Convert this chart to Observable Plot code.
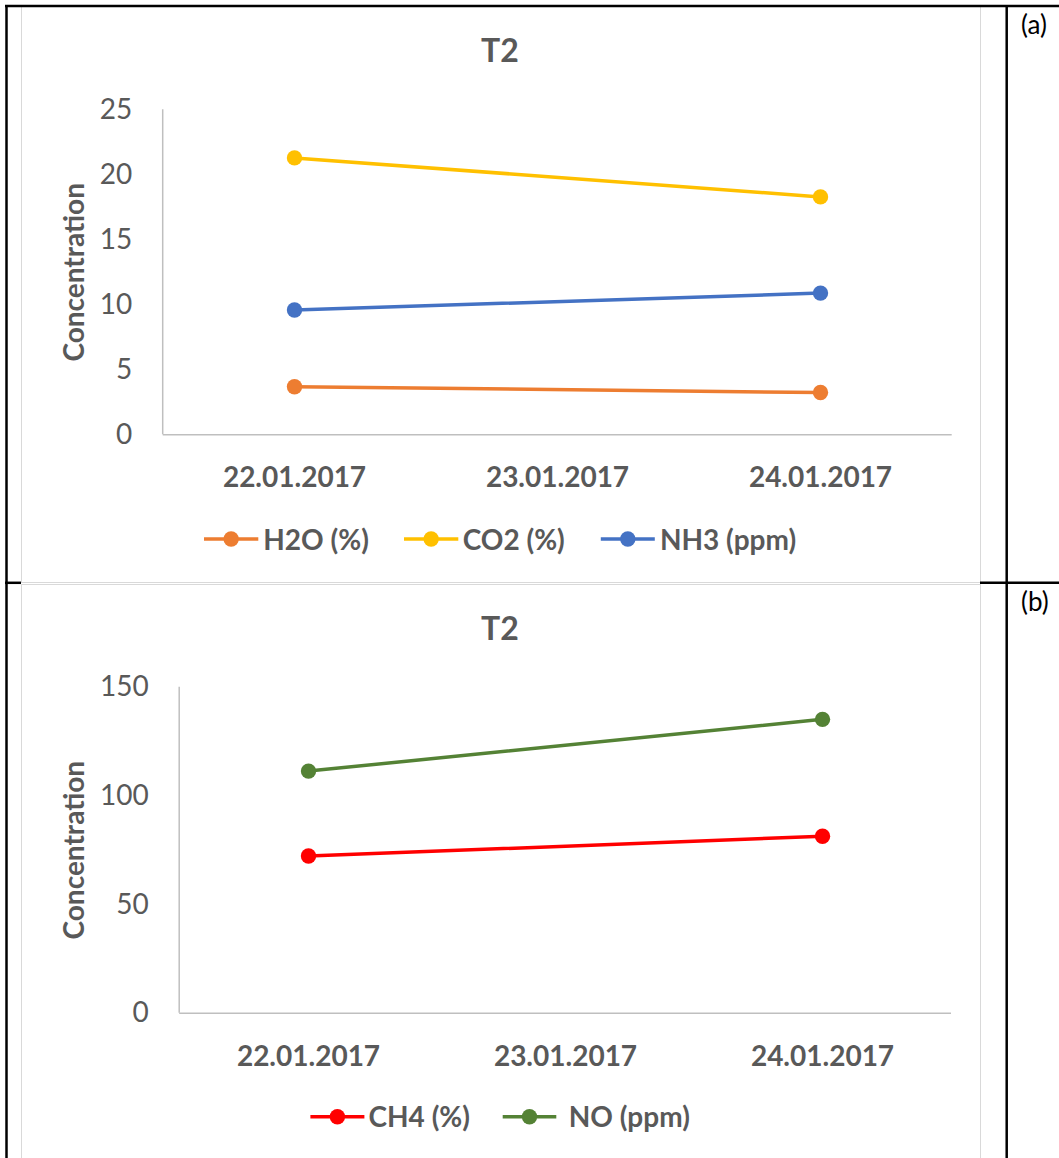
<!DOCTYPE html>
<html>
<head>
<meta charset="utf-8">
<script src="https://cdn.jsdelivr.net/npm/d3@7"></script>
<script src="https://cdn.jsdelivr.net/npm/@observablehq/plot@0.6"></script>
<style>
  html, body { margin: 0; padding: 0; background: #fff; }
  #page { position: relative; width: 1059px; height: 1158px; overflow: hidden; background: #fff; font-family: Lato, sans-serif; }
  #page > svg.plot { position: absolute; }
  #overlay { position: absolute; left: 0; top: 0; pointer-events: none; }
</style>
</head>
<body>
<div id="page"></div>
<script>
// ---- data ----
const dates = ["22.01.2017", "23.01.2017", "24.01.2017"];
const measuredDates = ["22.01.2017", "24.01.2017"];

const seriesA = ["H2O (%)", "CO2 (%)", "NH3 (ppm)"];
const h2o = [3.7, 3.25];
const co2 = [21.3, 18.3];
const nh3 = [9.6, 10.9];
const ticksA = [0, 5, 10, 15, 20, 25];

const seriesB = ["CH4 (%)", "NO (ppm)"];
const ch4 = [72.3, 81.4];
const no = [111.4, 135.2];
const ticksB = [0, 50, 100, 150];

const colorsA = ["#ED7D31", "#FFC000", "#4472C4"];
const colorsB = ["#FF0000", "#548235"];

const title = "T2";
const yTitle = "Concentration";
const panelLabels = ["(a)", "(b)"];

function toRows(names, valueLists) {
  const rows = [];
  names.forEach((name, i) => {
    measuredDates.forEach((d, j) => rows.push({series: name, date: d, value: valueLists[i][j]}));
  });
  return rows;
}
const rowsA = toRows(seriesA, [h2o, co2, nh3]);
const rowsB = toRows(seriesB, [ch4, no]);

// ---- layout ----
const TEXT = "#595959";
const AXIS = "#BFBFBF";
const FONT = "Lato, sans-serif";

const leftAxisLine = (index, scales, values, dims) =>
  d3.create("svg:line")
    .attr("x1", dims.marginLeft).attr("x2", dims.marginLeft)
    .attr("y1", dims.marginTop).attr("y2", dims.height - dims.marginBottom)
    .attr("stroke", AXIS).attr("stroke-width", 1.5).node();

function panel({rows, series, colors, ticks, m}) {
  const svg = Plot.plot({
    width: 960, height: 410,
    marginLeft: m[0], marginRight: m[1], marginTop: m[2], marginBottom: m[3],
    style: {fontFamily: FONT, color: TEXT, background: "transparent", overflow: "visible"},
    x: {type: "point", domain: dates, padding: 0.5, label: null},
    y: {domain: [ticks[0], ticks[ticks.length - 1]], label: null},
    color: {domain: series, range: colors},
    marks: [
      Plot.ruleY([0], {stroke: AXIS, strokeWidth: 1.5}),
      leftAxisLine,
      Plot.axisX({tickSize: 0, tickPadding: 32.5, fontSize: 28, fontWeight: "bold", label: null}),
      Plot.axisY({ticks, tickSize: 0, tickPadding: 31, fontSize: 28, label: null}),
      Plot.line(rows, {x: "date", y: "value", z: "series", stroke: "series", strokeWidth: 3.5}),
      Plot.dot(rows, {x: "date", y: "value", fill: "series", r: 7.7}),
      Plot.text([yTitle], {text: d => d, frameAnchor: "left", textAnchor: "middle", lineAnchor: "middle",
        rotate: -90, dx: 55 - m[0], fontSize: 28, fontWeight: "bold", fill: TEXT})
    ]
  });
  svg.classList.add("plot");
  return svg;
}

const page = document.getElementById("page");

// chart frames (light grey)
[[20.7, 6, 960, 577], [20.7, 583.5, 960, 600]].forEach(([l, t, w, h]) => {
  const d = document.createElement("div");
  Object.assign(d.style, {position: "absolute", left: l + "px", top: t + "px", width: w + "px", height: h + "px",
    border: "1.3px solid #D9D9D9", boxSizing: "border-box"});
  page.appendChild(d);
});

const pa = panel({rows: rowsA, series: seriesA, colors: colorsA, ticks: ticksA, m: [142.7, 28.3, 19.3, 65.7]});
pa.style.left = "20px"; pa.style.top = "90px";
page.appendChild(pa);

const pb = panel({rows: rowsB, series: seriesB, colors: colorsB, ticks: ticksB, m: [159.2, 29, 16.7, 67.3]});
pb.style.left = "20px"; pb.style.top = "670px";
page.appendChild(pb);

// overlay: table borders, titles, legends, panel labels
const ov = d3.create("svg").attr("id", "overlay").attr("width", 1059).attr("height", 1158)
  .style("font-family", FONT);

// table borders
ov.append("line").attr("x1", 5).attr("x2", 1059).attr("y1", 6).attr("y2", 6).attr("stroke", "#000").attr("stroke-width", 2.5);
ov.append("line").attr("x1", 6.5).attr("x2", 6.5).attr("y1", 5).attr("y2", 1158).attr("stroke", "#000").attr("stroke-width", 2.5);
ov.append("line").attr("x1", 1006.7).attr("x2", 1006.7).attr("y1", 5).attr("y2", 1158).attr("stroke", "#000").attr("stroke-width", 2.5);
ov.append("line").attr("x1", 5).attr("x2", 21).attr("y1", 582.8).attr("y2", 582.8).attr("stroke", "#000").attr("stroke-width", 2.5);
ov.append("line").attr("x1", 980).attr("x2", 1059).attr("y1", 582.8).attr("y2", 582.8).attr("stroke", "#000").attr("stroke-width", 2.5);

// titles
[61.7, 640].forEach(y => {
  ov.append("text").attr("x", 500).attr("y", y).attr("text-anchor", "middle")
    .attr("font-size", 32).attr("font-weight", "bold").attr("fill", TEXT).text(title);
});

// panel labels
[[panelLabels[0], 33.5], [panelLabels[1], 611]].forEach(([t, y]) => {
  ov.append("text").attr("x", 1021).attr("y", y).attr("font-size", 26).attr("fill", "#000").text(t);
});

// legends
function legend(names, colors, lines, textX, cy) {
  names.forEach((name, i) => {
    const [x1, x2] = lines[i];
    ov.append("line").attr("x1", x1).attr("x2", x2).attr("y1", cy).attr("y2", cy)
      .attr("stroke", colors[i]).attr("stroke-width", 3.5);
    ov.append("circle").attr("cx", (x1 + x2) / 2).attr("cy", cy).attr("r", 7.7).attr("fill", colors[i]);
    ov.append("text").attr("x", textX[i]).attr("y", cy + 10.5).attr("font-size", 28)
      .attr("font-weight", "bold").attr("fill", TEXT).text(name);
  });
}
legend(seriesA, colorsA, [[204, 258.3], [404, 458.3], [600.8, 654.8]], [263.3, 462.7, 659.9], 539);
legend(seriesB, colorsB, [[310.4, 364.4], [502.7, 556.3]], [368.5, 568.8], 1116.7);

page.appendChild(ov.node());
</script>
</body>
</html>
